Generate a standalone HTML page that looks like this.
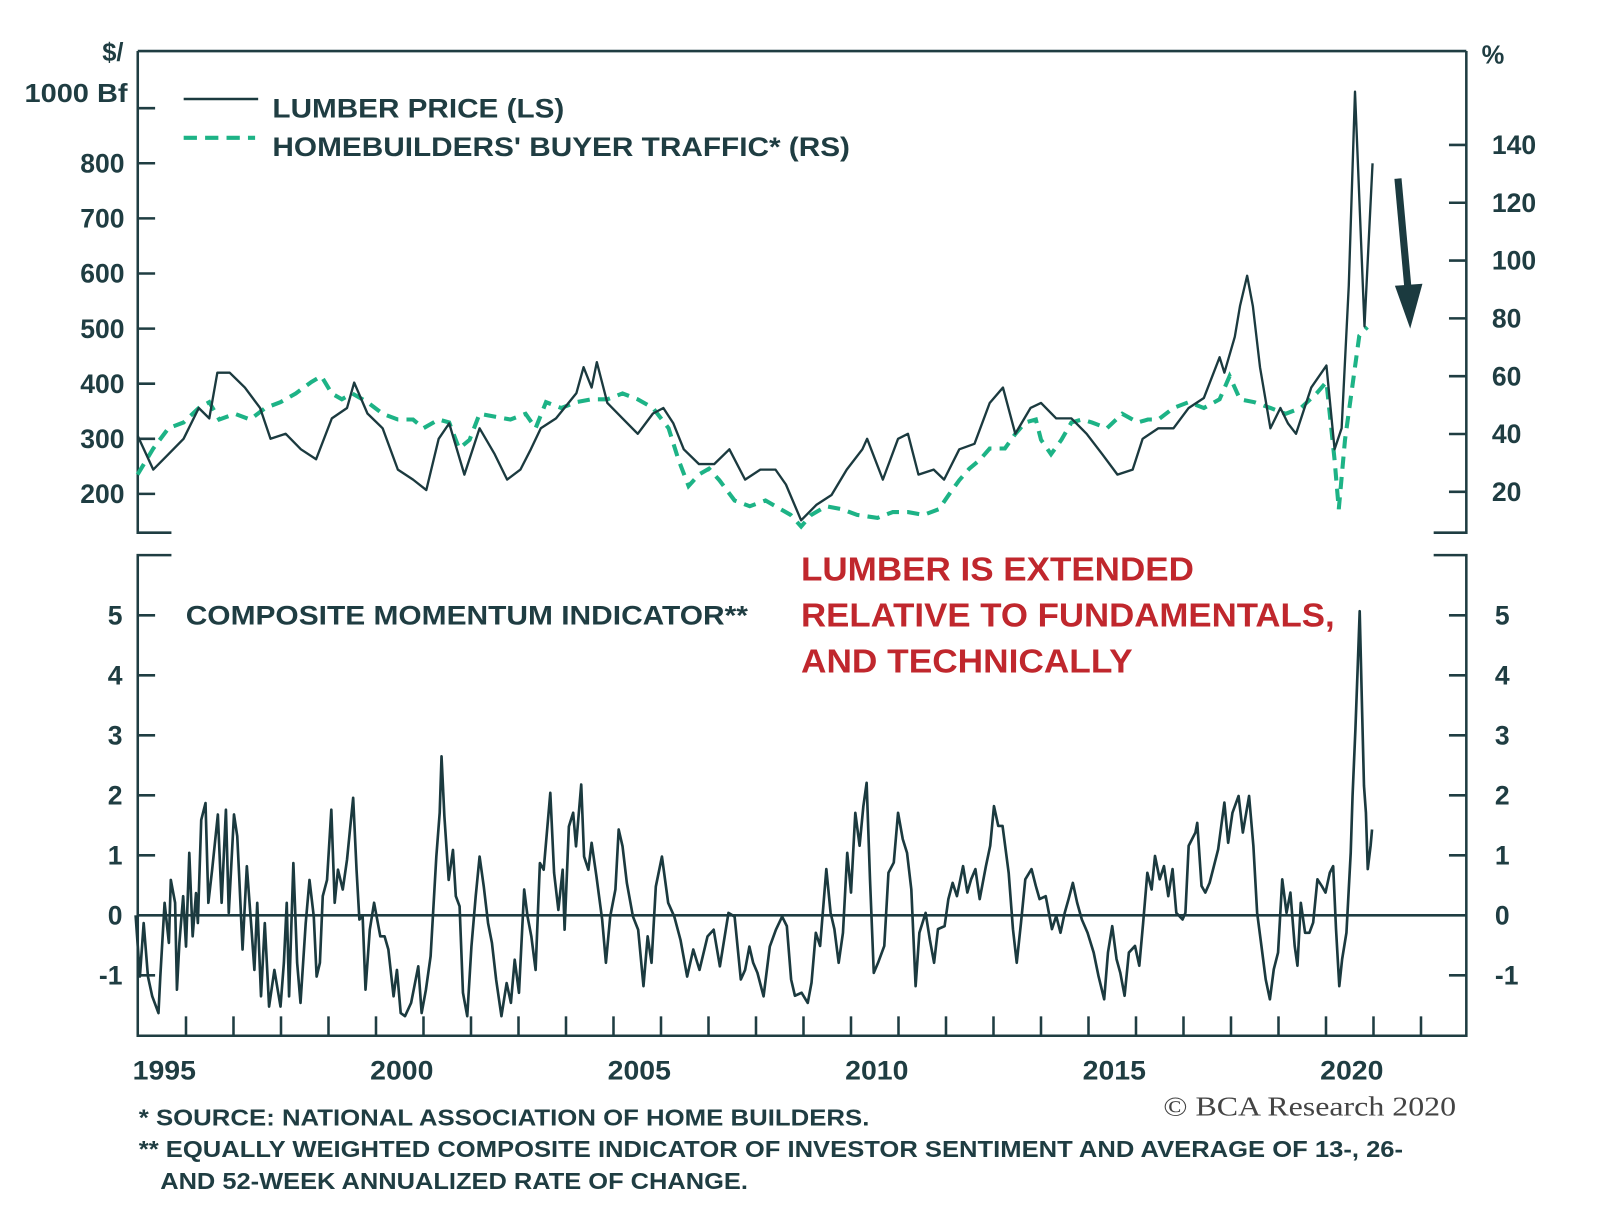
<!DOCTYPE html>
<html><head><meta charset="utf-8"><style>
html,body{margin:0;padding:0;background:#fff;}
svg{display:block;}
text{font-family:"Liberation Sans",Arial,sans-serif;fill:#1f3d42;font-weight:bold;}
</style></head><body>
<svg id="chart" width="1600" height="1228" viewBox="0 0 1568 1203.4" xmlns="http://www.w3.org/2000/svg">
<g id="frame" stroke="#1f3d42" stroke-width="2.5" fill="none">
<path d="M135 50 L1437 50 M135 50 L135 522 L168 522 M1437 50 L1437 522 L1405 522"/>
<path d="M168 544 L135 544 L135 1015 L1437 1015 L1437 544 L1405 544"/>
</g>
<g id="axes"></g>
<g id="series"></g>
<text x="121" y="60" text-anchor="end" font-size="25">$/</text>
<text x="24" y="100" font-size="25" textLength="101" lengthAdjust="spacingAndGlyphs">1000 Bf</text>
<text x="1452" y="62" font-size="25">%</text>
<line x1="180" y1="97" x2="253" y2="97" stroke="#1b3a3f" stroke-width="2.5"/>
<text x="267" y="115" font-size="26" textLength="286" lengthAdjust="spacingAndGlyphs">LUMBER PRICE (LS)</text>
<line x1="180" y1="135" x2="250" y2="135" stroke="#1db386" stroke-width="4" stroke-dasharray="13 8"/>
<text x="267" y="153" font-size="26" textLength="566" lengthAdjust="spacingAndGlyphs">HOMEBUILDERS' BUYER TRAFFIC* (RS)</text>
<text x="182" y="612" font-size="26" textLength="551" lengthAdjust="spacingAndGlyphs">COMPOSITE MOMENTUM INDICATOR**</text>
<g font-size="33">
<text x="785" y="569" textLength="385" lengthAdjust="spacingAndGlyphs" style="fill:#c0272d">LUMBER IS EXTENDED</text>
<text x="785" y="614" textLength="523" lengthAdjust="spacingAndGlyphs" style="fill:#c0272d">RELATIVE TO FUNDAMENTALS,</text>
<text x="785" y="659" textLength="325" lengthAdjust="spacingAndGlyphs" style="fill:#c0272d">AND TECHNICALLY</text>
</g>
<g>
<line x1="1370" y1="175" x2="1380" y2="285" stroke="#1b3a3f" stroke-width="7"/>
<polygon points="1367,280 1394,278 1382,322" fill="#1b3a3f"/>
</g>
<text x="136" y="1103" font-size="23" textLength="716" lengthAdjust="spacingAndGlyphs">*  SOURCE: NATIONAL ASSOCIATION OF HOME BUILDERS.</text>
<text x="136" y="1134" font-size="23" textLength="1239" lengthAdjust="spacingAndGlyphs">** EQUALLY WEIGHTED COMPOSITE INDICATOR OF INVESTOR SENTIMENT AND AVERAGE OF 13-, 26-</text>
<text x="157" y="1165" font-size="23" textLength="576" lengthAdjust="spacingAndGlyphs">AND 52-WEEK ANNUALIZED RATE OF CHANGE.</text>
<text x="1140" y="1093" font-size="27" textLength="287" lengthAdjust="spacingAndGlyphs" style="font-family:'Liberation Serif',serif;font-weight:normal;fill:#444">© BCA Research 2020</text>
</svg>
<script>
const lumYears=[1994.48,1994.81,1995.13,1995.45,1995.77,1995.99,1996.16,1996.42,1996.74,1997.06,1997.28,1997.60,1997.92,1998.24,1998.57,1998.89,1999.04,1999.32,1999.64,1999.96,2000.28,2000.56,2000.82,2001.04,2001.36,2001.68,2002.00,2002.26,2002.54,2002.76,2002.97,2003.29,2003.72,2003.87,2004.04,2004.15,2004.37,2004.69,2005.01,2005.33,2005.55,2005.76,2005.98,2006.30,2006.62,2006.94,2007.27,2007.59,2007.91,2008.13,2008.45,2008.77,2009.09,2009.41,2009.74,2009.84,2010.17,2010.49,2010.70,2010.92,2011.24,2011.46,2011.78,2012.10,2012.42,2012.70,2012.96,2013.28,2013.50,2013.82,2014.14,2014.46,2014.79,2015.11,2015.43,2015.64,2015.97,2016.29,2016.61,2016.93,2017.26,2017.36,2017.58,2017.69,2017.84,2017.96,2018.11,2018.33,2018.54,2018.70,2018.87,2019.19,2019.51,2019.68,2019.83,2019.98,2020.11,2020.31,2020.48];
const lumVals=[306,244,272,300,356,337,420,420,393,356,300,309,281,263,337,356,402,346,319,244,226,207,300,328,235,319,272,226,244,281,319,337,383,430,393,439,365,337,309,346,356,328,281,254,254,281,226,244,244,217,152,180,198,244,281,300,226,300,309,235,244,226,281,291,365,393,309,356,365,337,337,309,272,235,244,300,319,319,356,374,448,420,485,541,596,541,430,319,356,328,309,393,433,281,319,578,930,504,800];
const trafYears=[1994.48,1994.81,1995.13,1995.45,1995.77,1995.99,1996.20,1996.53,1996.85,1997.17,1997.49,1997.81,1998.14,1998.35,1998.57,1998.78,1999.00,1999.32,1999.64,1999.96,2000.28,2000.50,2000.82,2001.04,2001.25,2001.47,2001.68,2002.00,2002.33,2002.65,2002.86,2003.08,2003.40,2003.72,2004.04,2004.37,2004.69,2005.01,2005.33,2005.66,2005.87,2006.08,2006.30,2006.51,2006.73,2007.05,2007.37,2007.70,2008.02,2008.23,2008.45,2008.66,2008.98,2009.31,2009.63,2010.06,2010.38,2010.70,2011.03,2011.35,2011.56,2011.78,2011.99,2012.21,2012.42,2012.74,2012.96,2013.17,2013.39,2013.50,2013.71,2013.93,2014.14,2014.36,2014.57,2014.89,2015.21,2015.54,2015.75,2015.97,2016.29,2016.61,2016.93,2017.26,2017.47,2017.69,2017.99,2018.33,2018.65,2018.97,2019.30,2019.51,2019.68,2019.77,2019.90,2020.05,2020.20,2020.37];
const trafVals=[26,35,42,44,49,51,45,47,45,49,51,54,58,60,54,52,54,51,47,45,45,42,45,44,35,38,47,46,45,47,42,51,49,51,52,52,54,52,49,42,31,22,26,28,24,17,15,17,14,12,8,12,15,14,12,11,13,13,12,14,19,24,28,31,35,35,40,44,45,38,33,38,44,45,44,42,47,44,45,45,49,51,49,52,60,52,51,49,47,49,54,58,31,14,38,56,74,77];
const momYears=[1994.44,1994.53,1994.61,1994.70,1994.79,1994.92,1994.96,1995.05,1995.14,1995.18,1995.27,1995.31,1995.36,1995.44,1995.50,1995.57,1995.64,1995.71,1995.75,1995.82,1995.91,1995.97,1996.05,1996.17,1996.25,1996.34,1996.40,1996.51,1996.58,1996.62,1996.69,1996.78,1996.88,1996.94,1997.00,1997.08,1997.16,1997.25,1997.36,1997.49,1997.56,1997.62,1997.67,1997.76,1997.84,1997.91,1998.02,1998.10,1998.19,1998.25,1998.32,1998.38,1998.47,1998.56,1998.63,1998.70,1998.80,1998.89,1999.02,1999.09,1999.15,1999.22,1999.28,1999.37,1999.46,1999.59,1999.68,1999.76,1999.87,1999.94,2000.02,2000.11,2000.24,2000.39,2000.46,2000.55,2000.65,2000.77,2000.84,2000.88,2000.94,2001.03,2001.12,2001.18,2001.26,2001.33,2001.42,2001.51,2001.60,2001.68,2001.77,2001.86,2001.94,2002.03,2002.14,2002.25,2002.34,2002.42,2002.51,2002.62,2002.69,2002.77,2002.86,2002.95,2003.03,2003.17,2003.25,2003.34,2003.43,2003.47,2003.56,2003.65,2003.71,2003.82,2003.88,2003.97,2004.04,2004.14,2004.26,2004.34,2004.43,2004.54,2004.61,2004.69,2004.78,2004.91,2005.02,2005.13,2005.22,2005.30,2005.39,2005.52,2005.65,2005.78,2005.91,2006.05,2006.18,2006.31,2006.48,2006.61,2006.74,2006.92,2007.05,2007.18,2007.27,2007.36,2007.44,2007.53,2007.66,2007.79,2007.92,2008.05,2008.15,2008.24,2008.32,2008.46,2008.59,2008.67,2008.76,2008.85,2008.98,2009.07,2009.15,2009.24,2009.33,2009.42,2009.50,2009.59,2009.68,2009.76,2009.83,2009.90,2009.98,2010.07,2010.20,2010.29,2010.40,2010.49,2010.59,2010.68,2010.77,2010.86,2010.94,2011.07,2011.16,2011.25,2011.33,2011.47,2011.55,2011.64,2011.73,2011.86,2011.95,2012.03,2012.12,2012.21,2012.34,2012.43,2012.51,2012.60,2012.69,2012.82,2012.91,2012.99,2013.08,2013.17,2013.30,2013.39,2013.47,2013.60,2013.73,2013.82,2013.91,2014.00,2014.08,2014.17,2014.26,2014.36,2014.48,2014.61,2014.71,2014.83,2014.91,2015.00,2015.09,2015.17,2015.26,2015.35,2015.48,2015.57,2015.65,2015.74,2015.83,2015.90,2016.00,2016.09,2016.18,2016.27,2016.35,2016.48,2016.54,2016.61,2016.75,2016.79,2016.88,2016.96,2017.05,2017.14,2017.23,2017.36,2017.44,2017.53,2017.66,2017.75,2017.88,2017.97,2018.05,2018.14,2018.23,2018.32,2018.40,2018.49,2018.58,2018.67,2018.75,2018.84,2018.90,2018.97,2019.06,2019.15,2019.23,2019.32,2019.41,2019.49,2019.58,2019.65,2019.71,2019.78,2019.84,2019.93,2020.02,2020.06,2020.12,2020.17,2020.21,2020.26,2020.30,2020.34,2020.38,2020.44,2020.47];
const momVals=[0,-1.02,-0.13,-1.02,-1.35,-1.63,-1.02,0.21,-0.46,0.59,0.21,-1.24,-0.46,0.32,-0.52,1.04,-0.35,0.37,-0.13,1.59,1.87,0.21,0.76,1.68,0.21,1.76,0.04,1.68,1.32,0.65,-0.57,0.82,-0.24,-0.91,0.21,-1.35,-0.13,-1.52,-0.91,-1.52,-0.79,0.21,-1.35,0.87,-0.79,-1.46,-0.13,0.59,-0.02,-1.02,-0.79,0.32,0.59,1.76,0.21,0.76,0.43,0.93,1.96,0.76,-0.07,-0.02,-1.24,-0.24,0.21,-0.35,-0.35,-0.57,-1.35,-0.91,-1.63,-1.68,-1.46,-0.85,-1.63,-1.24,-0.68,0.98,1.71,2.65,1.65,0.59,1.09,0.32,0.15,-1.29,-1.68,-0.52,0.32,0.98,0.48,-0.13,-0.46,-1.07,-1.68,-1.13,-1.46,-0.74,-1.29,0.43,-0.02,-0.35,-0.91,0.87,0.76,2.04,0.71,0.09,0.76,-0.24,1.48,1.71,1.15,2.18,0.98,0.76,1.21,0.65,-0.07,-0.79,-0.02,0.43,1.43,1.15,0.54,-0.02,-0.24,-1.18,-0.35,-0.79,0.48,0.98,0.21,-0.02,-0.41,-1.02,-0.57,-0.91,-0.35,-0.24,-0.85,0.04,-0.02,-1.07,-0.91,-0.52,-0.79,-0.96,-1.35,-0.52,-0.24,-0.02,-0.18,-1.07,-1.34,-1.29,-1.46,-1.12,-0.29,-0.51,0.77,0.04,-0.23,-0.79,-0.29,1.04,0.38,1.71,1.16,1.82,2.21,0.6,-0.96,-0.79,-0.51,0.71,0.88,1.71,1.27,1.04,0.43,-1.18,-0.29,0.04,-0.4,-0.79,-0.23,-0.18,0.27,0.54,0.32,0.82,0.38,0.6,0.77,0.27,0.82,1.16,1.82,1.49,1.49,0.71,-0.23,-0.79,-0.12,0.6,0.77,0.49,0.27,0.32,-0.23,-0.01,-0.29,0.04,0.27,0.54,0.21,-0.07,-0.29,-0.62,-1.01,-1.4,-0.62,-0.18,-0.73,-0.96,-1.34,-0.62,-0.51,-0.84,-0.12,0.71,0.43,0.99,0.6,0.82,0.32,0.77,0.04,-0.07,0.04,1.16,1.38,1.54,0.49,0.38,0.54,0.82,1.1,1.88,1.21,1.71,1.99,1.38,1.99,1.16,0.04,-0.51,-1.07,-1.4,-0.9,-0.62,0.6,0.04,0.38,-0.51,-0.84,0.21,-0.29,-0.29,-0.12,0.6,0.49,0.38,0.71,0.82,-0.23,-1.18,-0.73,-0.29,1.04,1.99,3.1,4.21,5.07,3.38,2.16,1.71,0.77,1.16,1.43];
const leftTicks=[200,300,400,500,600,700,800];
const rightTicks=[20,40,60,80,100,120,140];
const momTicks=[-1,0,1,2,3,4,5];
const yearLabels=[1995,2000,2005,2010,2015,2020];

const NS='http://www.w3.org/2000/svg';
const xOf=y=>159+46.55*(y-1995);
const yL=v=>160+(800-v)*0.54;
const yR=v=>142+(140-v)*2.833;
const yM=v=>897-v*58.8;
const axes=document.getElementById('axes');
const series=document.getElementById('series');
function mk(tag,attrs,parent){const e=document.createElementNS(NS,tag);for(const k in attrs)e.setAttribute(k,attrs[k]);parent.appendChild(e);return e;}
const TC='#1f3d42';
leftTicks.forEach(v=>{
  const l=mk('line',{x1:135,x2:152,y1:yL(v),y2:yL(v),stroke:TC,'stroke-width':2.5},axes);
  
  
  const t=mk('text',{x:122,y:yL(v)+9,'text-anchor':'end','font-size':26},axes);
  t.textContent=v;
  
  
});
const l9=mk('line',{x1:135,x2:152,y1:yL(900),y2:yL(900),stroke:TC,'stroke-width':2.5},axes);


rightTicks.forEach(v=>{
  const l=mk('line',{x1:1420,x2:1437,y1:yR(v),y2:yR(v),stroke:TC,'stroke-width':2.5},axes);
  
  
  const t=mk('text',{x:1462,y:yR(v)+9,'font-size':26},axes);
  t.textContent=v;
  
  
});
momTicks.forEach(v=>{
  if(v!==0){
  const l=mk('line',{x1:135,x2:152,y1:yM(v),y2:yM(v),stroke:TC,'stroke-width':2.5},axes);
  
  
  const r=mk('line',{x1:1420,x2:1437,y1:yM(v),y2:yM(v),stroke:TC,'stroke-width':2.5},axes);
  
  
  }
  const t=mk('text',{x:120,y:yM(v)+9,'text-anchor':'end','font-size':26},axes);
  t.textContent=v;
  
  
  const t2=mk('text',{x:1465,y:yM(v)+9,'font-size':26},axes);
  t2.textContent=v;
  
  
});
const zl=mk('line',{x1:135,x2:1437,y1:yM(0),y2:yM(0),stroke:TC,'stroke-width':2.5},axes);


for(let y=1995;y<=2021;y++){
  const l=mk('line',{x1:xOf(y+0.5),x2:xOf(y+0.5),y1:996,y2:1015,stroke:TC,'stroke-width':2.5},axes);
  
  
}
yearLabels.forEach(y=>{
  const t=mk('text',{x:xOf(y)+2,y:1058,'text-anchor':'middle','font-size':26,textLength:62,lengthAdjust:'spacingAndGlyphs'},axes);
  t.textContent=y;
  
  
});
function pts(xs,vs,f){return xs.map((x,i)=>xOf(x).toFixed(1)+','+f(vs[i]).toFixed(1)).join(' ');}
const tr=mk('polyline',{points:pts(trafYears,trafVals,yR),fill:'none',stroke:'#1db386','stroke-width':4,'stroke-dasharray':'12 8'},series);


const lu=mk('polyline',{points:pts(lumYears,lumVals,yL),fill:'none',stroke:'#1b3a3f','stroke-width':2.3,'stroke-linejoin':'round'},series);


const mo=mk('polyline',{points:pts(momYears,momVals,yM),fill:'none',stroke:'#1b3a3f','stroke-width':2.6,'stroke-linejoin':'round'},series);


</script>
</body></html>
